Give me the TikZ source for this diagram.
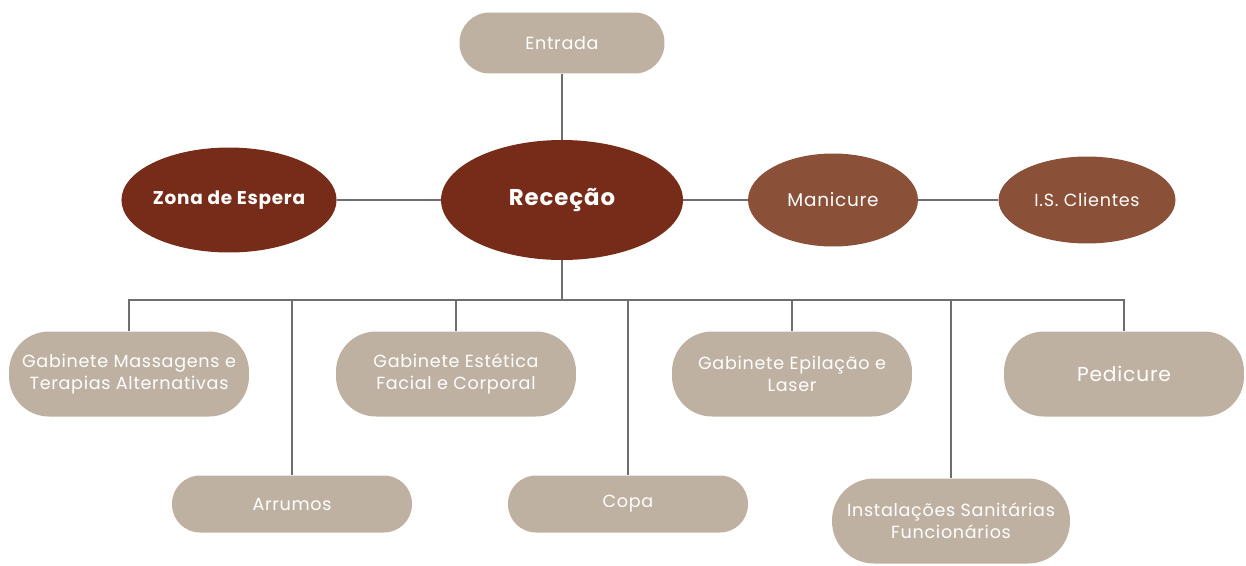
\documentclass[tikz,border=0pt]{standalone}
\usepackage{fontspec}
\setmainfont{Poppins}[LetterSpace=4]
\usepackage{tikz}
\usetikzlibrary{shapes.geometric}
\definecolor{recepcol}{HTML}{772C19}
\definecolor{manicol}{HTML}{8A5038}
\definecolor{roomcol}{HTML}{BFB1A2}
\definecolor{linecol}{HTML}{6E6E6E}
\tikzstyle{hub} = [ellipse, fill=recepcol, text=white, inner sep=0pt]
\tikzstyle{side} = [ellipse, fill=manicol, text=white, inner sep=0pt,
    font=\fontsize{10.5}{13}\selectfont]
\tikzstyle{room} = [rectangle, fill=roomcol, text=white, align=center,
    minimum width=4.8cm, minimum height=1.7cm, rounded corners=0.8cm, inner sep=0pt,
    font=\fontsize{10}{12.5}\selectfont]
\tikzstyle{line} = [draw, linecol, line width=0.8pt]

\begin{document}
\begin{tikzpicture}[x=0.02cm, y=-0.02cm]
      \useasboundingbox (0,0) rectangle (1246,565);
      % top row
      \node [room, minimum width=4.1cm, minimum height=1.22cm, rounded corners=0.6cm] (entrada) at (562,43) {Entrada};
      \node [hub, minimum width=4.84cm, minimum height=2.4cm, font=\bfseries\fontsize{13}{15}\selectfont] (rececao) at (562,200) {Receção};
      \node [hub, minimum width=4.16cm, minimum height=2.1cm, font=\bfseries\fontsize{10.5}{13}\selectfont] (espera) at (229,200) {Zona de Espera};
      \node [side, minimum width=3.4cm, minimum height=1.86cm] (manicure) at (833,200) {Manicure};
      \node [side, minimum width=3.54cm, minimum height=1.74cm, font=\fontsize{10}{12}\selectfont] (isclientes) at (1087,200) {I.S. Clientes};
      % rooms
      \coordinate (bus) at (562,300);
      \node [room] (massagens) at (129,374) {Gabinete Massagens e\\Terapias Alternativas};
      \node [room] (estetica) at (456,374) {Gabinete Estética\\Facial e Corporal};
      \node [room] (epilacao) at (792,374) {Gabinete Epilação e\\Laser};
      \node [room, font=\fontsize{11.5}{14}\selectfont] (pedicure) at (1124,374) {Pedicure};
      \node [room, minimum height=1.14cm, rounded corners=0.56cm] (arrumos) at (292,504) {Arrumos};
      \node [room, minimum height=1.14cm, rounded corners=0.56cm] (copa) at (628,504) {Copa};
      \node [room, minimum width=4.76cm, minimum height=1.7cm, rounded corners=0.84cm] (sanitarias) at (951,521) {Instalações Sanitárias\\Funcionários};
      % Draw edges
      \path [line] (entrada) -- (rececao);
      \path [line] (espera) -- (rececao);
      \path [line] (rececao) -- (manicure);
      \path [line] (manicure) -- (isclientes);
      \path [line] (rececao) -- (bus);
      \path [line] (massagens.north) |- (bus);
      \path [line] (arrumos.north) |- (bus);
      \path [line] (estetica.north) |- (bus);
      \path [line] (copa.north) |- (bus);
      \path [line] (epilacao.north) |- (bus);
      \path [line] (sanitarias.north) |- (bus);
      \path [line] (pedicure.north) |- (bus);
\end{tikzpicture}
\end{document}
